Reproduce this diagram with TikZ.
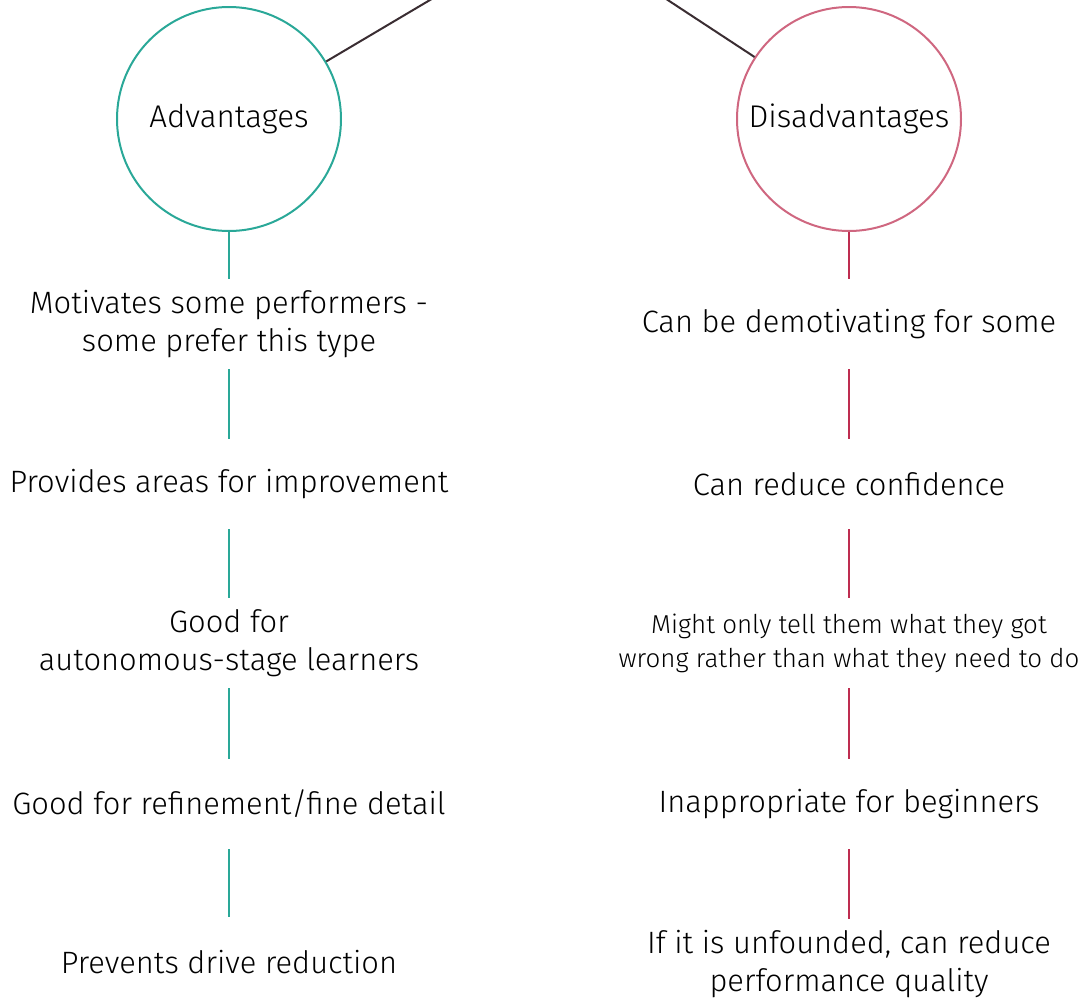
\documentclass[tikz,border=0pt]{standalone}
\usepackage{fontspec}
\setmainfont{Fira Sans}[UprightFont=* Light]
\usepackage{tikz}
\usetikzlibrary{positioning}

\definecolor{advteal}{RGB}{42,168,152}
\definecolor{dispink}{RGB}{207,103,128}
\definecolor{disred}{RGB}{190,45,80}
\definecolor{rootline}{RGB}{58,45,50}

\tikzset{
  headnode/.style={circle,draw,line width=2bp,minimum size=224bp,inner sep=0pt,font=\fontsize{31.5}{36}\selectfont},
  itemnode/.style={align=center,minimum height=88bp,inner sep=0pt,font=\fontsize{31}{38}\selectfont},
  smallitem/.style={itemnode,font=\fontsize{26}{34}\selectfont},
}

\begin{document}
\begin{tikzpicture}
    [x=1bp,y=-1bp,line width=2bp]
    \clip (0,0) rectangle (1088,1002);

    % off-picture parent
    \coordinate (root) at (555,-74);

    \node[headnode,draw=advteal] (nadv) at (229,119) {Advantages};
    \node[headnode,draw=dispink] (ndis) at (849,119) {Disadvantages};

    % advantages
    \node[itemnode] (na1) at (229,324) {Motivates some performers -\\some prefer this type};
    \node[itemnode] (na2) at (229,484) {Provides areas for improvement};
    \node[itemnode] (na3) at (229,643) {Good for\\autonomous-stage learners};
    \node[itemnode] (na4) at (229,804) {Good for refinement/fine detail};
    \node[itemnode] (na5) at (229,962) {Prevents drive reduction};

    % disadvantages
    \node[itemnode] (nd1) at (849,324) {Can be demotivating for some};
    \node[itemnode] (nd2) at (849,484) {Can reduce confidence};
    \node[smallitem] (nd3) at (849,643) {Might only tell them what they got\\wrong rather than what they need to do};
    \node[itemnode] (nd4) at (849,804) {Inappropriate for beginners};
    \node[itemnode] (nd5) at (849,964) {If it is unfounded, can reduce\\performance quality};

    \path[draw=rootline] (root) edge (nadv) (root) edge (ndis);

    \path[draw=advteal] (nadv) edge (na1.north) (na1) edge (na2) (na2) edge (na3)
        (na3) edge (na4) (na4) edge (na5);
    \path[draw=disred] (ndis) edge (nd1.north) (nd1) edge (nd2) (nd2) edge (nd3)
        (nd3) edge (nd4) (nd4) edge (nd5);
\end{tikzpicture}
\end{document}
